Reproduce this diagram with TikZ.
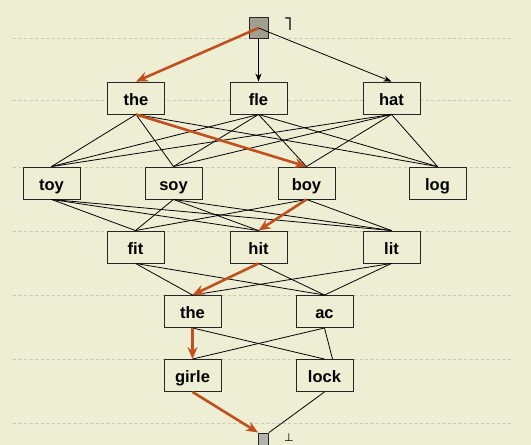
\documentclass[tikz,border=0pt]{standalone}
\usepackage{fontspec}
\setmainfont{Liberation Sans}
\newfontfamily\symfont{DejaVu Sans}
\usetikzlibrary{arrows.meta}
\definecolor{bg}{HTML}{EEEED4}
\definecolor{hl}{HTML}{C0501E}
\definecolor{guidecol}{HTML}{C8C8BE}
\definecolor{topfill}{HTML}{A39F90}
\definecolor{botfill}{HTML}{B4B4AE}
\begin{document}
\begin{tikzpicture}[x=1pt,y=-1pt,
  word/.style={draw=black!85,line width=0.9pt,fill=bg,minimum width=57pt,minimum height=32pt,inner sep=0pt,text height=14pt,text depth=0pt,font=\fontsize{16.5}{16.5}\selectfont\bfseries},
  edge/.style={line width=0.8pt,black},
  aedge/.style={edge,-{Stealth[length=8pt,width=6pt]}},
  hledge/.style={line width=2.6pt,hl,-{Stealth[length=12pt,width=10pt]}},
  guide/.style={guidecol,dash pattern=on 3pt off 2.5pt,line width=0.8pt}]
\useasboundingbox (0,0) rectangle (531,445);
\fill[bg] (0,0) rectangle (531,445);
\foreach \yy in {38,100,167,231,295,359,423}{
  \draw[guide] (13,\yy) -- (513,\yy);
}
% nodes
\node[draw=black!85,line width=0.9pt,fill=topfill,minimum width=19pt,minimum height=21pt,inner sep=0pt] (top) at (258.5,28) {};
\node[font=\symfont\fontsize{19}{19}\selectfont] (toplabel) at (288,24) {˥};
\node[word] (the1) at (136,98) {the};
\node[word] (fle) at (258.5,98) {fle};
\node[word] (hat) at (391.5,98) {hat};
\node[word] (toy) at (51.5,183) {toy};
\node[word] (soy) at (173.5,183) {soy};
\node[word] (boy) at (306.5,183) {boy};
\node[word] (log) at (437.5,183) {log};
\node[word] (fit) at (135.5,247) {fit};
\node[word] (hit) at (258.5,247) {hit};
\node[word] (lit) at (391.5,247) {lit};
\node[word] (the2) at (192.5,311.5) {the};
\node[word] (ac) at (324.5,311.5) {ac};
\node[word] (girle) at (192.5,375.5) {girle};
\node[word] (lock) at (324.5,375.5) {lock};
\node[draw=black!85,line width=0.9pt,fill=botfill,minimum width=10pt,minimum height=12pt,inner sep=0pt] (bot) at (263.5,439) {};
\node[font=\symfont\fontsize{11}{11}\selectfont,inner sep=0pt] (botlabel) at (289,438) {⊥};
% black edges
\draw[aedge] (top.south) -- (fle.north);
\draw[aedge] (top.center) -- (hat.north);
\foreach \u in {the1,fle,hat}{
  \foreach \v in {toy,soy,boy,log}{
    \draw[edge] (\u.south) -- (\v.north);
  }
}
\foreach \u in {toy,soy,boy}{
  \foreach \v in {fit,hit,lit}{
    \draw[edge] (\u.south) -- (\v.north);
  }
}
\foreach \u in {fit,hit,lit}{
  \foreach \v in {the2,ac}{
    \draw[edge] (\u.south) -- (\v.north);
  }
}
\draw[edge] (the2.south) -- (lock.north);
\draw[edge] (ac.south) -- (girle.north);
\draw[edge] (ac.south) -- ([xshift=8pt]lock.north);
\draw[edge] (lock.south) -- (bot.north east);
% highlighted path
\draw[hledge] (top.center) -- (the1.north);
\draw[hledge] (the1.south) -- (boy.north);
\draw[hledge] (boy.south) -- (hit.north);
\draw[hledge] (hit.south) -- (the2.north);
\draw[hledge] (the2.south) -- (girle.north);
\draw[hledge] (girle.south) -- (bot.north west);
\end{tikzpicture}
\end{document}
